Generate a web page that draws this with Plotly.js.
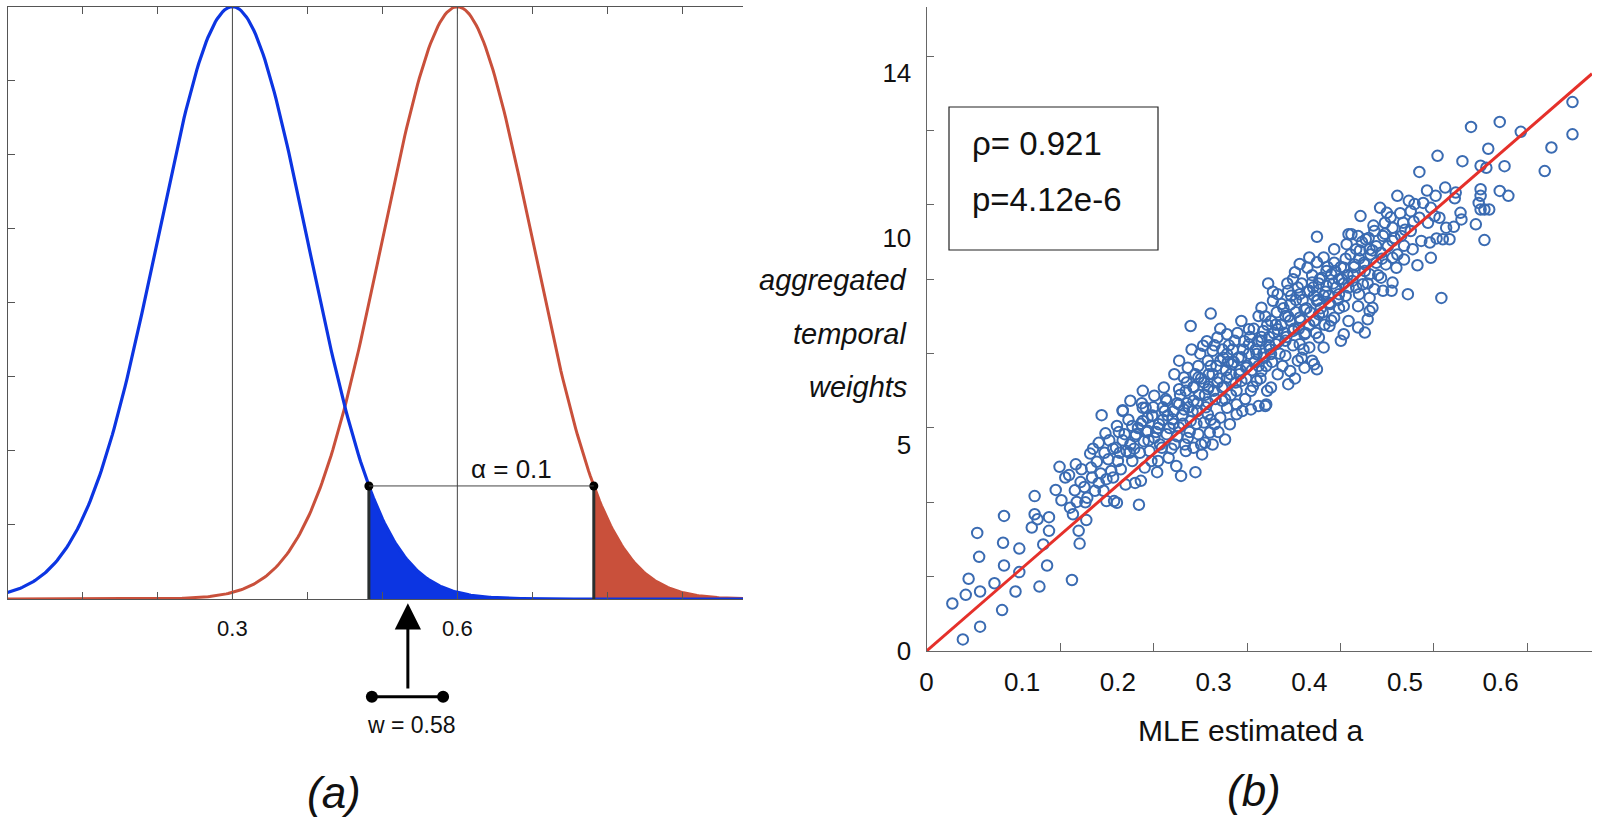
<!DOCTYPE html>
<html><head><meta charset="utf-8">
<script src="https://cdn.plot.ly/plotly-3.0.1.min.js"></script>
<style>html,body{margin:0;padding:0;background:#fff}#chart{width:1600px;height:826px}</style>
</head><body><div id="chart"></div>
<script>
// ---------------- Panel (a): two normal densities ----------------
const densityMeans = [0.3, 0.6];          // blue, red
const densitySd = 0.1;
const tailCutoffs = [0.482, 0.782];       // blue tail start, red tail start
const panelAXMax = 0.981;
const panelATicks = [0.1,0.2,0.3,0.4,0.5,0.6,0.7,0.8,0.9];
const panelATickText = ['','','0.3','','','0.6','','',''];
const panelAYTicks = [0.125,0.25,0.375,0.5,0.625,0.75,0.875];
const arrowAt = 0.534;
const wSegment = [0.486, 0.581];
const alphaText = 'α = 0.1';
const wText = 'w = 0.58';

// ---------------- Panel (b): scatter ----------------
const mleA = [
0.027,0.038,0.041,0.044,0.053,0.055,0.056,0.056,0.071,0.079,0.080,0.081,0.081,0.093,0.097,0.097,0.110,0.113,0.113,0.116,
0.118,0.122,0.126,0.128,0.128,0.139,0.141,0.149,0.150,0.152,0.153,0.155,0.156,0.157,0.159,0.160,0.161,0.165,0.167,0.168,
0.171,0.172,0.173,0.176,0.178,0.180,0.180,0.183,0.185,0.187,0.188,0.188,0.190,0.193,0.196,0.198,0.199,0.199,0.200,0.203,
0.205,0.207,0.208,0.209,0.213,0.215,0.215,0.218,0.219,0.222,0.224,0.223,0.226,0.227,0.228,0.229,0.231,0.233,0.236,0.238,
0.241,0.242,0.243,0.246,0.249,0.251,0.253,0.257,0.259,0.261,0.264,0.266,0.269,0.271,0.273,0.276,0.279,0.281,0.283,0.284,
0.288,0.290,0.291,0.294,0.296,0.299,0.301,0.307,0.312,0.314,0.317,0.324,0.330,0.339,0.354,
0.408,0.439,0.441,0.426,0.415,0.408,0.400,0.398,0.390,0.385,0.436,0.423,0.413,0.431,0.441,0.418,0.403,0.383,0.357,0.400,
0.415,0.431,0.408,0.390,0.378,0.367,0.362,0.350,0.380,0.395,0.410,0.426,0.441,0.436,0.421,0.463,0.461,0.458,0.466,0.451,
0.451,0.436,0.433,0.421,0.405,0.390,0.375,0.360,0.347,0.329,0.297,0.276,0.337,0.352,0.367,0.383,0.395,0.410,0.415,0.400,
0.390,0.375,0.365,0.350,0.337,0.322,0.314,0.304,0.289,0.299,0.314,0.329,0.345,0.360,0.375,0.388,0.403,0.408,0.405,0.395,
0.378,0.360,0.355,0.347,0.367,0.380,0.350,0.334,0.319,0.307,0.294,0.284,0.273,0.264,0.259,0.269,0.284,0.299,0.314,0.329,
0.345,0.339,0.324,0.309,0.294,0.279,0.264,0.248,0.238,0.251,0.264,0.279,0.294,0.309,0.324,0.226,0.213,0.226,0.205,0.231,
0.675,0.675,0.653,0.646,0.621,0.599,0.569,0.587,0.604,0.585,0.579,0.560,0.534,0.515,0.599,0.608,0.579,0.579,0.577,0.579,
0.583,0.588,0.574,0.583,0.558,0.559,0.553,0.552,0.542,0.532,0.523,0.492,0.474,0.481,0.4535,0.527,0.513,0.503,0.538,0.5465,
0.5395,0.533,0.551,0.543,0.536,0.527,0.519,0.510,0.506,0.515,0.524,0.531,0.498,0.487,0.479,0.496,0.506,0.517,0.526,0.508,
0.499,0.487,0.477,0.468,0.459,0.451,0.444,0.449,0.463,0.475,0.487,0.499,0.491,0.480,0.470,0.458,0.447,0.463,0.475,0.487,
0.486,0.477,0.468,0.456,0.445,0.452,0.463,
0.205,0.211,0.217,0.221,0.225,0.232,0.235,0.237,0.240,0.244,0.247,0.250,0.254,0.256,0.258,0.262,0.265,0.268,0.270,0.272,
0.275,0.278,0.282,0.285,0.287,0.292,0.295,0.297,0.302,0.305,
0.281,0.286,0.290,0.293,0.297,0.301,0.304,0.307,0.310,0.313,0.316,0.318,0.321,0.325,0.327,0.331,0.335,0.338,0.341,0.343,
0.346,0.349,0.352,0.355,0.358,0.312,0.333,0.356,0.272,0.277,
0.354,0.358,0.362,0.365,0.369,0.371,0.374,0.377,0.380,0.383,0.386,0.389,0.392,0.394,0.397,0.400,0.403,0.405,0.407,0.410,
0.412,0.416,0.418,0.420,0.423,0.426,0.428,0.431,0.434,0.438,0.372,0.385,0.392,
0.446,0.449,0.452,0.455,0.458,0.461,0.464,0.467,0.470,0.472,0.476,0.479,0.482,0.485,0.489,0.492,0.495,0.500,0.504,0.509,
0.135,0.145,0.162,0.166,0.174,0.182,0.186,0.191,0.195,0.202,
0.300,0.303,0.306,0.309,0.311,0.315,0.318,0.320,0.323,0.326,0.328,0.332,0.334,0.337,0.340,0.342,0.344,0.347,0.350,0.353,
0.356,0.359,0.361,0.363,0.366,0.368,0.371,0.373,0.376,0.378,0.381,0.384,0.386,0.388,0.391,0.393,0.396,0.398,0.401,0.404,
0.406,0.409,0.411,0.414,0.417,0.419,0.422,0.425,0.427,0.430,0.433,0.436,0.438,0.440,0.443,0.447,0.453,0.457,0.462,0.466,
0.258,0.262,0.267,0.271,0.274,0.279,0.283,0.287,0.291,0.295,0.230,0.236,0.242,0.247,0.252,0.218,0.224,0.212,0.195,0.201
];
const aggW = [
1.15,0.28,1.36,1.75,2.86,2.28,1.44,0.59,1.64,0.99,2.62,3.27,2.07,1.44,2.48,1.91,2.99,3.75,3.31,3.19,
1.56,2.58,2.07,3.24,2.91,4.46,3.65,4.26,3.47,1.72,3.31,3.89,4.52,3.61,2.91,2.60,4.09,3.97,3.17,3.71,
4.78,4.44,4.20,3.88,4.58,5.04,4.07,5.71,3.88,5.27,4.16,3.63,4.64,4.36,3.63,4.92,5.45,3.59,4.60,4.40,
5.81,5.25,4.03,4.84,5.00,5.45,4.60,4.07,5.25,3.54,4.12,4.80,5.57,5.08,4.44,5.89,5.33,4.84,5.69,5.16,
4.33,4.60,5.49,4.92,5.81,5.25,4.68,5.61,5.00,4.48,5.41,4.24,5.85,4.84,5.16,5.57,4.92,4.33,5.81,5.25,
4.76,5.53,5.04,5.73,5.29,5.00,5.49,5.65,5.12,5.89,5.49,5.73,5.81,5.85,5.93,
10.03,9.85,10.09,9.73,9.53,9.41,9.53,9.28,9.37,9.17,9.28,9.12,9.04,9.00,8.80,8.84,8.92,9.00,8.90,8.72,
8.60,8.64,8.48,8.64,8.72,8.64,8.48,8.31,8.39,8.27,8.15,8.07,7.99,8.35,8.43,8.23,8.03,7.71,8.31,8.35,
7.83,7.67,7.51,7.87,7.99,8.07,8.11,7.99,8.11,7.99,8.17,7.87,7.79,7.75,7.79,7.75,7.67,7.59,7.35,7.35,
7.43,7.51,7.43,7.51,7.43,7.51,7.67,7.59,7.39,7.27,7.19,7.11,7.19,7.19,7.15,7.03,7.03,6.82,6.94,6.86,
6.46,6.38,5.97,5.93,6.70,6.78,6.78,6.86,6.94,7.03,7.03,6.90,6.86,7.03,6.70,6.62,6.62,6.70,6.62,6.54,
6.54,6.30,6.30,6.38,6.34,6.38,6.34,6.38,6.18,6.06,5.97,6.06,6.02,6.06,5.97,6.30,6.06,5.89,5.83,5.65,
13.29,12.51,12.19,11.62,12.57,12.81,12.69,12.16,11.74,11.70,11.75,11.86,11.99,11.60,11.14,11.02,11.18,11.02,10.85,10.69,
10.69,10.69,10.33,9.95,10.61,10.45,11.10,10.96,11.22,11.02,11.15,11.02,10.73,10.61,10.53,9.52,9.34,8.64,8.55,9.97,
9.97,9.99,10.27,10.25,10.49,10.73,10.85,10.82,10.65,10.49,10.37,10.53,10.37,10.25,10.37,10.05,10.17,9.93,9.89,9.73,
9.81,9.93,10.05,10.17,9.97,10.05,10.09,9.73,9.73,9.64,9.52,9.48,9.28,9.36,9.40,9.36,9.36,9.12,9.04,8.92,
8.72,8.72,8.76,8.88,8.96,8.64,8.55,
5.10,5.60,4.90,5.40,6.00,5.10,4.60,5.90,5.30,5.00,5.60,6.10,5.40,4.90,5.80,5.20,6.20,5.50,5.00,6.00,
5.30,5.80,5.50,6.20,5.00,5.90,6.40,5.60,6.10,5.30,
6.70,7.20,6.50,7.50,6.90,7.40,6.50,7.80,7.10,6.80,7.40,6.20,7.00,7.70,6.70,7.30,6.90,7.60,6.40,7.00,
7.50,6.60,7.20,6.90,7.60,6.10,6.10,6.30,6.50,7.30,
8.10,7.40,8.70,7.90,7.20,8.40,7.70,8.90,8.00,7.40,8.50,7.80,8.90,7.30,8.30,7.90,9.10,8.60,7.70,8.90,
8.30,7.90,9.20,8.60,8.00,9.40,8.80,8.30,9.00,8.60,6.90,6.60,7.10,
9.10,8.80,9.50,9.90,9.20,8.90,9.60,10.30,9.80,9.10,9.50,10.10,9.80,10.50,10.00,9.60,10.60,10.20,10.90,10.40,
3.90,4.20,4.40,3.60,4.90,4.30,4.80,5.10,4.20,4.80,
6.30,6.90,6.60,7.30,6.40,7.00,6.70,7.30,6.50,7.10,6.80,7.50,6.60,7.20,6.80,7.80,7.30,6.90,7.60,7.10,
7.90,7.30,7.00,7.70,8.20,7.50,7.90,8.30,7.60,8.10,8.60,7.80,8.20,8.80,8.00,8.50,7.70,8.70,8.20,8.80,
8.00,8.50,9.00,8.20,8.70,9.30,8.40,8.90,9.20,8.50,9.30,8.90,9.50,9.10,9.60,9.30,9.70,9.40,10.00,9.70,
5.50,6.00,5.70,6.30,5.90,6.40,6.00,6.60,6.20,6.70,5.30,5.70,5.40,5.90,5.70,5.20,5.50,4.80,4.90,5.30
];
const fitSlope = 20.1;
const xLabelVals = [0,0.1,0.2,0.3,0.4,0.5,0.6];
const xTickMarks = [0.140,0.237,0.335,0.433,0.530,0.628];
const yLabelVals = [0,5,10,14];
const yTickMarks = [1.8,3.6,5.4,7.2,9.0,10.8,12.6,14.4];
const statLines = ['ρ= 0.921', 'p=4.12e-6'];
const yTitleLines = ['aggregated','temporal','weights'];
const xTitle = 'MLE estimated a';

// ---------------- geometry helpers ----------------
const W = 1600, H = 826;
const pxX = v => v / W, pxY = v => (H - v) / H;
const FONT = 'Liberation Sans, Arial, sans-serif';
const BLUE = '#0c35e2', RED = '#c9503b', PT = '#3a6bb2', FIT = '#e5302a';

function density(mu, x) { return Math.exp(-((x - mu) * (x - mu)) / (2 * densitySd * densitySd)); }
function grid(a, b, n) { const g = []; for (let i = 0; i <= n; i++) g.push(a + (b - a) * i / n); return g; }

const gx = grid(0, panelAXMax, 400);
const blueY = gx.map(x => density(densityMeans[0], x));
const redY = gx.map(x => density(densityMeans[1], x));
const blueTailX = grid(tailCutoffs[0], panelAXMax, 200);
const redTailX = grid(tailCutoffs[1], panelAXMax, 200);
const hB = density(densityMeans[0], tailCutoffs[0]);
const hR = density(densityMeans[1], tailCutoffs[1]);

const traces = [
  {x: redTailX, y: redTailX.map(x => density(densityMeans[1], x)), mode: 'lines', fill: 'tozeroy',
   fillcolor: RED, line: {color: RED, width: 0}, xaxis: 'x', yaxis: 'y', hoverinfo: 'skip'},
  {x: blueTailX, y: blueTailX.map(x => density(densityMeans[0], x)), mode: 'lines', fill: 'tozeroy',
   fillcolor: BLUE, line: {color: BLUE, width: 0}, xaxis: 'x', yaxis: 'y', hoverinfo: 'skip'},
  {x: gx, y: redY, mode: 'lines', line: {color: RED, width: 3}, xaxis: 'x', yaxis: 'y', hoverinfo: 'skip'},
  {x: gx, y: blueY, mode: 'lines', line: {color: BLUE, width: 3.2}, xaxis: 'x', yaxis: 'y', hoverinfo: 'skip'},
  {x: [tailCutoffs[0], tailCutoffs[0], null, tailCutoffs[1], tailCutoffs[1]], y: [0, hB, null, 0, hR],
   mode: 'lines', line: {color: '#2a2f2f', width: 3}, xaxis: 'x', yaxis: 'y', hoverinfo: 'skip'},
  {x: tailCutoffs, y: [hB, hR], mode: 'markers', marker: {color: '#000', size: 9},
   xaxis: 'x', yaxis: 'y', cliponaxis: false, hoverinfo: 'skip'},
  // panel (b)
  {x: mleA, y: aggW, mode: 'markers', xaxis: 'x2', yaxis: 'y2', cliponaxis: false,
   marker: {symbol: 'circle-open', size: 10.5, color: PT, line: {width: 2, color: PT}}, hoverinfo: 'skip'},
  {x: [0, 0.6954], y: [0, 0.6954 * fitSlope], mode: 'lines', xaxis: 'x2', yaxis: 'y2',
   line: {color: FIT, width: 3}, hoverinfo: 'skip'}
];

const axLine = '#555';
const layout = {
  width: W, height: H, margin: {l: 0, r: 0, t: 0, b: 0},
  paper_bgcolor: '#fff', plot_bgcolor: 'rgba(0,0,0,0)', showlegend: false, hovermode: false,
  font: {family: FONT, color: '#111'},
  xaxis: {domain: [pxX(7.5), pxX(743)], range: [0, panelAXMax], anchor: 'y',
    showline: true, linecolor: axLine, linewidth: 1, mirror: 'ticks', ticks: 'inside', ticklen: 7,
    tickcolor: axLine, tickmode: 'array', tickvals: panelATicks, ticktext: panelATickText,
    tickfont: {size: 22, color: '#111'}, ticklabelstandoff: 10, showgrid: false, zeroline: false, fixedrange: true},
  yaxis: {domain: [pxY(599), pxY(6.7)], range: [0, 1], anchor: 'x',
    showline: true, linecolor: axLine, linewidth: 1, ticks: 'inside', ticklen: 7, tickcolor: axLine,
    tickmode: 'array', tickvals: panelAYTicks, showticklabels: false, showgrid: false, zeroline: false, fixedrange: true},
  xaxis2: {domain: [pxX(926.5), pxX(1592)], range: [0, 0.6954], anchor: 'y2',
    showline: true, linecolor: '#666', linewidth: 1, ticks: '', tickmode: 'array', tickvals: xLabelVals,
    ticktext: xLabelVals.map(String), tickfont: {size: 26, color: '#111'}, ticklabelstandoff: 8,
    minor: {tickmode: 'array', tickvals: xTickMarks, ticks: 'inside', ticklen: 8, tickcolor: '#666', showgrid: false},
    showgrid: false, zeroline: false, fixedrange: true},
  yaxis2: {domain: [pxY(651), pxY(6.5)], range: [0, 15.605], anchor: 'x2',
    showline: true, linecolor: '#666', linewidth: 1, ticks: '', tickmode: 'array', tickvals: yLabelVals,
    ticktext: yLabelVals.map(String), tickfont: {size: 26, color: '#111'}, ticklabelstandoff: 9,
    minor: {tickmode: 'array', tickvals: yTickMarks, ticks: 'inside', ticklen: 7, tickcolor: '#666', showgrid: false},
    showgrid: false, zeroline: false, fixedrange: true},
  shapes: [
    {type: 'line', xref: 'x', yref: 'y', x0: densityMeans[0], x1: densityMeans[0], y0: 0, y1: 1, line: {color: '#444', width: 1}, layer: 'below'},
    {type: 'line', xref: 'x', yref: 'y', x0: densityMeans[1], x1: densityMeans[1], y0: 0, y1: 1, line: {color: '#444', width: 1}, layer: 'below'},
    {type: 'line', xref: 'x', yref: 'y', x0: tailCutoffs[0], x1: tailCutoffs[1], y0: hB, y1: hR, line: {color: '#444', width: 1}},
    {type: 'line', xref: 'x', yref: 'paper', x0: wSegment[0], x1: wSegment[1], y0: pxY(696.7), y1: pxY(696.7), line: {color: '#000', width: 3}},
    {type: 'circle', xref: 'x', yref: 'paper', xsizemode: 'pixel', ysizemode: 'pixel', xanchor: wSegment[0], yanchor: pxY(696.7),
     x0: -6, x1: 6, y0: -6, y1: 6, fillcolor: '#000', line: {width: 0}},
    {type: 'circle', xref: 'x', yref: 'paper', xsizemode: 'pixel', ysizemode: 'pixel', xanchor: wSegment[1], yanchor: pxY(696.7),
     x0: -6, x1: 6, y0: -6, y1: 6, fillcolor: '#000', line: {width: 0}},
    {type: 'rect', xref: 'paper', yref: 'paper', x0: pxX(949), x1: pxX(1158), y0: pxY(107), y1: pxY(250), line: {color: '#222', width: 1.2}}
  ],
  annotations: [
    {xref: 'x', yref: 'paper', x: arrowAt, y: pxY(603.3), ax: 0, ay: 86.7, text: '', showarrow: true,
     arrowhead: 2, arrowsize: 1.75, arrowwidth: 3, arrowcolor: '#000'},
    {xref: 'paper', yref: 'paper', x: pxX(511.7), y: pxY(469.3), text: alphaText, showarrow: false,
     xanchor: 'center', yanchor: 'middle', font: {size: 26, color: '#111'}},
    {xref: 'paper', yref: 'paper', x: pxX(411.5), y: pxY(725), text: wText, showarrow: false,
     xanchor: 'center', yanchor: 'middle', font: {size: 23, color: '#111'}},
    {xref: 'paper', yref: 'paper', x: pxX(334), y: pxY(792), text: '<i>(a)</i>', showarrow: false,
     xanchor: 'center', yanchor: 'middle', font: {size: 44, color: '#111'}},
    {xref: 'paper', yref: 'paper', x: pxX(1254), y: pxY(790), text: '<i>(b)</i>', showarrow: false,
     xanchor: 'center', yanchor: 'middle', font: {size: 44, color: '#111'}},
    {xref: 'paper', yref: 'paper', x: pxX(1250), y: pxY(730.7), text: xTitle, showarrow: false,
     xanchor: 'center', yanchor: 'middle', font: {size: 30, color: '#111'}},
    {xref: 'paper', yref: 'paper', x: pxX(970), y: pxY(143), text: statLines[0], showarrow: false,
     xanchor: 'left', yanchor: 'middle', font: {size: 33, color: '#111'}},
    {xref: 'paper', yref: 'paper', x: pxX(970), y: pxY(200), text: statLines[1], showarrow: false,
     xanchor: 'left', yanchor: 'middle', font: {size: 33, color: '#111'}}
  ]
};
const yTitleYs = [280, 334, 387];
yTitleLines.forEach((t, i) => layout.annotations.push({xref: 'paper', yref: 'paper', x: pxX(909), y: pxY(yTitleYs[i]),
  text: '<i>' + t + '</i>', showarrow: false, xanchor: 'right', yanchor: 'middle', font: {size: 29, color: '#111'}}));

Plotly.newPlot('chart', traces, layout, {staticPlot: true, displayModeBar: false});
</script></body></html>
